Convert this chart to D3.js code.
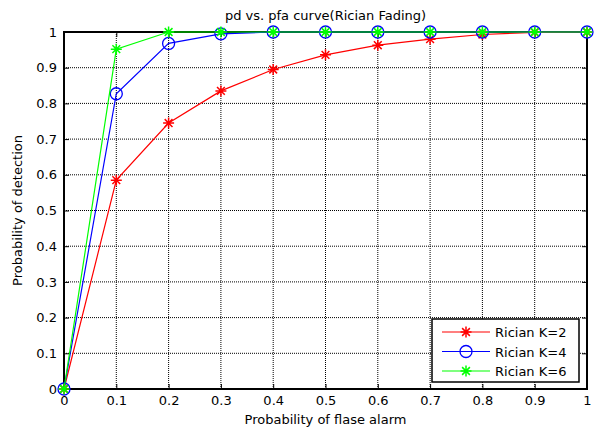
<!DOCTYPE html>
<html>
<head>
<meta charset="utf-8">
<script src="https://cdn.jsdelivr.net/npm/d3@7"></script>
<style>
  body { margin: 0; background: #fff; }
  text { font-family: "DejaVu Sans", sans-serif; }
</style>
</head>
<body>
<svg id="chart" width="597" height="430"></svg>
<script>
const pfa = [0, 0.1, 0.2, 0.3, 0.4, 0.5, 0.6, 0.7, 0.8, 0.9, 1]
const pdK2 = [0, 0.585, 0.745, 0.835, 0.895, 0.936, 0.963, 0.98, 0.993, 0.999, 1]
const pdK4 = [0, 0.827, 0.968, 0.995, 1, 1, 1, 1, 1, 1, 1]
const pdK6 = [0, 0.952, 1, 1, 1, 1, 1, 1, 1, 1, 1]
const ticks = [0, 0.1, 0.2, 0.3, 0.4, 0.5, 0.6, 0.7, 0.8, 0.9, 1]

const series = [
  { name: "Rician K=2", values: pdK2, color: "#ff0000", marker: "star" },
  { name: "Rician K=4", values: pdK4, color: "#0000ff", marker: "circle" },
  { name: "Rician K=6", values: pdK6, color: "#00ff00", marker: "star" }
]

let margin = { top: 32, right: 10, bottom: 41, left: 64 }
let width = 597 - margin.left - margin.right
let height = 430 - margin.top - margin.bottom

let svg = d3.select("#chart")
let g = svg.append("g")
  .attr("transform", "translate(" + margin.left + "," + margin.top + ")")

let x = d3.scaleLinear().domain([0, 1]).range([0, width])
let y = d3.scaleLinear().domain([0, 1]).range([height, 0])

// grid
g.append("g").selectAll("line").data(ticks.slice(1, -1)).enter().append("line")
  .attr("x1", d => x(d)).attr("x2", d => x(d))
  .attr("y1", 0).attr("y2", height)
  .attr("stroke", "#000").attr("stroke-width", 1).attr("stroke-dasharray", "1,1")
g.append("g").selectAll("line").data(ticks.slice(1, -1)).enter().append("line")
  .attr("y1", d => y(d)).attr("y2", d => y(d))
  .attr("x1", 0).attr("x2", width)
  .attr("stroke", "#000").attr("stroke-width", 1).attr("stroke-dasharray", "1,1")

// axes with inward ticks
g.append("g").attr("transform", "translate(0," + height + ")")
  .call(d3.axisBottom(x).tickValues(ticks).tickSize(-5).tickPadding(7).tickFormat(d3.format("")))
g.append("g")
  .call(d3.axisLeft(y).tickValues(ticks).tickSize(-5).tickPadding(7).tickFormat(d3.format("")))
g.append("g")
  .call(d3.axisTop(x).tickValues(ticks).tickSize(-5).tickFormat(""))
g.append("g").attr("transform", "translate(" + width + ",0)")
  .call(d3.axisRight(y).tickValues(ticks).tickSize(-5).tickFormat(""))
g.selectAll(".domain").remove()
g.selectAll(".tick line").attr("stroke", "#000")
g.selectAll(".tick text").attr("font-size", "13px").attr("fill", "#000")
  .style("font-family", "'DejaVu Sans', sans-serif")

g.append("rect")
  .attr("width", width).attr("height", height)
  .attr("fill", "none").attr("stroke", "#000").attr("stroke-width", 2)

const starPath = (s) => {
  let p = ""
  for (let a = 0; a < 4; a++) {
    let ang = a * Math.PI / 4
    let dx = Math.cos(ang) * s, dy = Math.sin(ang) * s
    p += "M" + (-dx) + "," + (-dy) + "L" + dx + "," + dy
  }
  return p
}

const drawMarker = (sel, m, color) => {
  if (m === "circle") {
    sel.append("circle").attr("r", 6).attr("fill", "none")
      .attr("stroke", color).attr("stroke-width", 1.3)
  } else {
    sel.append("path").attr("d", starPath(5.5)).attr("stroke", color)
      .attr("stroke-width", 1.5).attr("fill", "none")
  }
}

let line = d3.line().x((d, i) => x(pfa[i])).y(d => y(d))

series.forEach(s => {
  g.append("path").datum(s.values)
    .attr("d", line).attr("fill", "none")
    .attr("stroke", s.color).attr("stroke-width", 1.2)
  let marks = g.append("g").selectAll("g").data(s.values).enter().append("g")
    .attr("transform", (d, i) => "translate(" + x(pfa[i]) + "," + y(d) + ")")
  marks.each(function () { drawMarker(d3.select(this), s.marker, s.color) })
})

// title and axis labels
svg.append("text").attr("x", margin.left + width / 2).attr("y", 20)
  .attr("text-anchor", "middle").attr("font-size", "13px").text("pd vs. pfa curve(Rician Fading)")
svg.append("text").attr("x", margin.left + width / 2).attr("y", 424)
  .attr("text-anchor", "middle").attr("font-size", "13px").text("Probability of flase alarm")
svg.append("text").attr("transform", "rotate(-90)")
  .attr("x", -(margin.top + height / 2)).attr("y", 22)
  .attr("text-anchor", "middle").attr("font-size", "13px").text("Probability of detection")

// legend
let lx = 432, ly = 319
let legend = svg.append("g").attr("transform", "translate(" + lx + "," + ly + ")")
legend.append("rect").attr("width", 147).attr("height", 63)
  .attr("fill", "#fff").attr("stroke", "#000").attr("stroke-width", 1.5)
series.forEach((s, i) => {
  let row = legend.append("g").attr("transform", "translate(0," + (13 + i * 19.5) + ")")
  row.append("line").attr("x1", 10).attr("x2", 58).attr("y1", 0).attr("y2", 0)
    .attr("stroke", s.color).attr("stroke-width", 1.2)
  let mk = row.append("g").attr("transform", "translate(34,0)")
  drawMarker(mk, s.marker, s.color)
  row.append("text").attr("x", 63).attr("y", 5).attr("font-size", "13px").text(s.name)
})
</script>
</body>
</html>
